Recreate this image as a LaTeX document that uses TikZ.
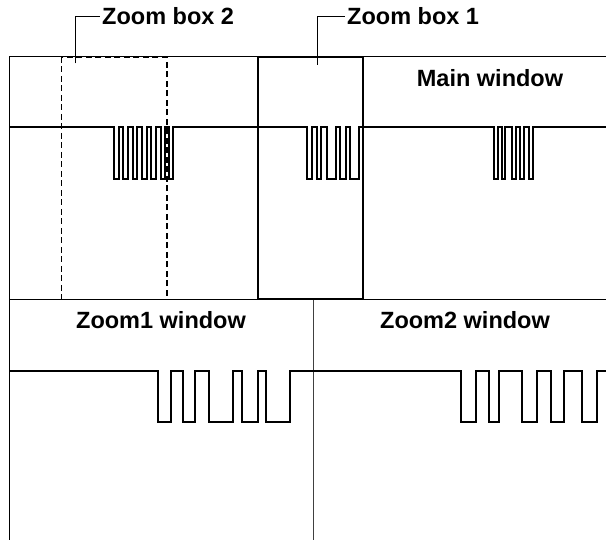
\documentclass[tikz,border=0pt]{standalone}
\usepackage{fontspec}
\setmainfont{Liberation Sans}
\begin{document}
\begin{tikzpicture}[x=1pt,y=-1pt,
  frame/.style={line width=1pt,black},
  sig/.style={line width=2pt,black,line join=miter},
  boxsolid/.style={line width=2pt,black},
  boxdash/.style={line width=1.7pt,black,dash pattern=on 6pt off 3.5pt},
  leader/.style={line width=1pt,black},
  lab/.style={font=\fontsize{23.5}{27}\selectfont\bfseries,inner sep=2pt}]
\useasboundingbox (0,0) rectangle (606,540);
% frame
\coordinate (tl) at (9,57);
\coordinate (tr) at (606,57);
\coordinate (bl) at (9,540);
\coordinate (ml) at (9,300);
\coordinate (mr) at (606,300);
\coordinate (dt) at (313,300);
\coordinate (db) at (313,540);
\draw[frame] (tr) -- (tl) -- (bl);
\draw[frame] (ml) -- (mr);
\draw[frame,black!75] (dt) -- (db);
% main signal
\draw[sig] (9,127.5)
  \foreach \a/\b in {114/118.5,123/127.5,132.5/137,142/146.5,151/155.5,160.5/164.5,168.5/173.3}
    { -- (\a,127.5) -- (\a,179.5) -- (\b,179.5) -- (\b,127.5) }
  \foreach \a/\b in {306.7/311.7,316.6/321.3,326.9/336.2,339.9/346.4,349.5/359}
    { -- (\a,127.5) -- (\a,179.5) -- (\b,179.5) -- (\b,127.5) }
  \foreach \a/\b in {494/498.4,502.2/505.1,511.7/516,520.1/523.7,529/533.3}
    { -- (\a,127.5) -- (\a,179.5) -- (\b,179.5) -- (\b,127.5) }
  -- (606,127.5);
% zoom1 window signal
\draw[sig] (9,371)
  \foreach \a/\b in {158.3/171,183.3/195,209.3/232.7,242/258.3,266/290}
    { -- (\a,371) -- (\a,421.7) -- (\b,421.7) -- (\b,371) }
  -- (313,371);
% zoom2 window signal
\draw[sig] (313,371)
  \foreach \a/\b in {460.7/476,489/499,522/536.7,551/563.5,581.7/596.7}
    { -- (\a,371) -- (\a,421.7) -- (\b,421.7) -- (\b,371) }
  -- (606,371);
% zoom boxes
\draw[boxdash] (61.5,57) rectangle (166.7,299.5);
\draw[boxsolid] (258.3,57) rectangle (363.3,299.5);
% labels
\node[lab,anchor=west] (lab2) at (100,16.5) {Zoom box 2};
\node[lab,anchor=west] (lab1) at (345,16.5) {Zoom box 1};
\node[lab] (mainw) at (490,78) {Main window};
\node[lab] (z1w) at (161,320) {Zoom1 window};
\node[lab] (z2w) at (465,320) {Zoom2 window};
% leaders
\coordinate (p2) at (75,63.5);
\coordinate (p1) at (317.3,65);
\draw[leader] (p2) |- (lab2.west);
\draw[leader] (p1) |- (lab1.west);
\end{tikzpicture}
\end{document}
